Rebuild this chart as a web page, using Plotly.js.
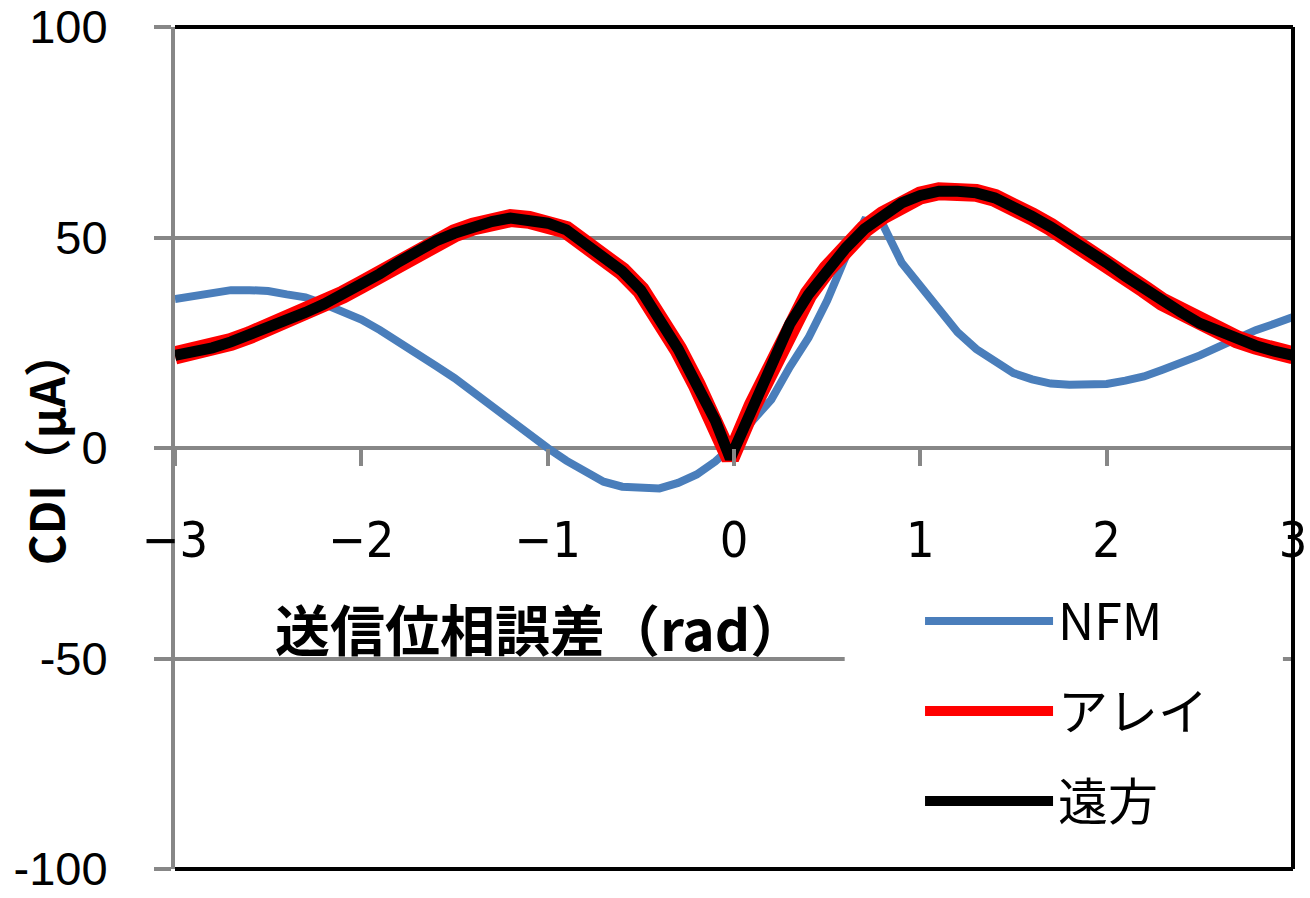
<!DOCTYPE html>
<html><head><meta charset="utf-8">
<script src="https://cdn.plot.ly/plotly-3.0.1.min.js"></script>
<style>html,body{margin:0;padding:0;background:#fff}#chart{width:1310px;height:898px}</style>
</head><body><div id="chart"></div>
<script>
const phaseError = [-3.0,-2.9,-2.8,-2.7,-2.6,-2.5,-2.4,-2.3,-2.2,-2.1,-2.0,-1.9,-1.8,-1.7,-1.6,-1.5,-1.4,-1.3,-1.2,-1.1,-1.0,-0.9,-0.8,-0.7,-0.6,-0.5,-0.4,-0.3,-0.2,-0.1,-0.02,0.1,0.2,0.3,0.4,0.5,0.6,0.7,0.8,0.9,1.0,1.1,1.2,1.3,1.4,1.5,1.6,1.7,1.8,1.9,2.0,2.1,2.2,2.3,2.4,2.5,2.6,2.7,2.8,2.9,3.0];
const nfmCDI = [35.4,36,36.8,37.5,37.5,37.3,36.5,35.8,34.2,32.6,30.5,28,25.3,22.3,19.5,16.6,13.3,9.8,6.2,3,0,-3,-5.5,-8,-9.2,-9.6,-9.6,-8.3,-6.3,-3.2,0,6.5,11.5,19.3,26.2,35,45.5,54,53,44,38.5,32.5,27.5,23.5,20.5,17.8,16.3,15.3,15,15,15.2,16,17,18.6,20.2,22,24,26.2,28,29.5,31.1];
const arrayCDI = [22,22.8,23.8,25.2,26.8,28.5,30.3,32.2,34.2,36.4,38.8,41.4,44.2,46.8,49.2,51,52.6,53.8,54.6,54.2,53.4,51.8,48.5,45.5,42,37.5,31,23.5,15,6.5,-2.5,10,19.5,29.5,36.5,42.5,47.5,52,55.3,58.2,60,61,61,60.6,59.4,57.5,55,52.5,49.8,46.8,44,40.8,37.8,34.7,32.2,29.6,27.6,25.8,24.3,23,22];
const farCDI = [22,22.8,23.8,25.2,26.8,28.5,30.3,32.2,34.2,36.4,38.8,41.4,44.2,46.8,49.2,51,52.6,53.8,54.6,54.2,53.4,51.8,48.5,45.5,42,37.5,31,23.5,15,6.5,-2.5,10,19.5,29.5,36.5,42.5,47.5,52,55.3,58.2,60,61,61,60.6,59.4,57.5,55,52.5,49.8,46.8,44,40.8,37.8,34.7,32.2,29.6,27.6,25.8,24.3,23,22];
const seriesNames = ['NFM', 'アレイ', '遠方'];
const yTickVals = [-100, -50, 0, 50, 100];
const yTickText = ['-100', '-50', '0', '50', '100'];
const xTickVals = [-3, -2, -1, 0, 1, 2, 3];
const xTickText = ['−3', '−2', '−1', '0', '1', '2', '3'];
const xTitle = '送信位相誤差（rad）';
const yTitle = 'CDI（μA）';

const GRAY = '#878787';
const traces = [
  {x: phaseError, y: nfmCDI, name: seriesNames[0], mode: 'lines', legendgroup: 'g1',
   line: {color: '#4a7ebb', width: 8}},
  {x: phaseError, y: arrayCDI, name: seriesNames[1], mode: 'lines', legendgroup: 'g2',
   line: {color: '#ff0000', width: 18}},
  {x: phaseError, y: farCDI, name: seriesNames[2], mode: 'lines', legendgroup: 'g3',
   line: {color: '#000000', width: 11}}
];

const layout = {
  width: 1310, height: 898,
  margin: {l: 175, r: 17, t: 27, b: 29},
  paper_bgcolor: '#fff', plot_bgcolor: '#fff',
  showlegend: true,
  xaxis: {
    range: [-3, 3], anchor: 'free', position: 0.5,
    tickvals: xTickVals, ticktext: xTickText,
    ticks: 'outside', ticklen: 17, tickwidth: 4, tickcolor: GRAY,
    showline: false, showgrid: false, zeroline: false,
    ticklabelstandoff: 31, ticklabeloverflow: 'allow',
    tickfont: {family: 'DejaVu Sans Condensed', size: 50, color: '#000'}
  },
  yaxis: {
    range: [-100, 100],
    tickvals: yTickVals, ticktext: yTickText,
    ticks: 'outside', ticklen: 17, tickwidth: 4, tickcolor: GRAY,
    showline: true, linecolor: GRAY, linewidth: 4,
    showgrid: true, gridcolor: GRAY, gridwidth: 4,
    zeroline: true, zerolinecolor: GRAY, zerolinewidth: 4,
    ticklabelstandoff: 37, ticklabeloverflow: 'allow',
    tickfont: {family: 'Liberation Sans', size: 47, color: '#000'}
  },
  legend: {
    x: 0.6664, xanchor: 'left', y: 0.341, yanchor: 'top',
    bgcolor: 'rgba(255,255,255,0)', borderwidth: 0,
    itemwidth: 128, traceorder: 'grouped', tracegroupgap: 22,
    font: {family: 'Noto Sans CJK JP', size: 50, color: '#000'}
  },
  shapes: [
    {type: 'rect', xref: 'paper', yref: 'y', x0: 0.599, x1: 0.991, y0: -45, y1: -75,
     fillcolor: '#fff', line: {width: 0}, layer: 'above'},
    {type: 'line', xref: 'paper', yref: 'paper', x0: 0, x1: 1, y0: 1, y1: 1, line: {color: '#000', width: 4}, layer: 'above'},
    {type: 'line', xref: 'paper', yref: 'paper', x0: 1, x1: 1, y0: 0, y1: 1, line: {color: '#000', width: 4}, layer: 'above'},
    {type: 'line', xref: 'paper', yref: 'paper', x0: 0, x1: 1, y0: 0, y1: 0, line: {color: '#000', width: 4}, layer: 'above'}
  ],
  annotations: [
    {text: '<b>' + xTitle + '</b>', xref: 'paper', yref: 'paper', x: 0.0877, y: 0.288,
     xanchor: 'left', yanchor: 'middle', showarrow: false,
     font: {family: 'Noto Sans CJK JP', size: 55, color: '#000'}},
    {text: '<b>' + yTitle + '</b>', xref: 'paper', yref: 'paper', x: -0.117, y: 0.5,
     xanchor: 'center', yanchor: 'middle', showarrow: false, textangle: -90,
     font: {family: 'Noto Sans CJK JP', size: 47, color: '#000'}}
  ]
};

Plotly.newPlot('chart', traces, layout, {displayModeBar: false, staticPlot: true});
</script>
</body></html>
